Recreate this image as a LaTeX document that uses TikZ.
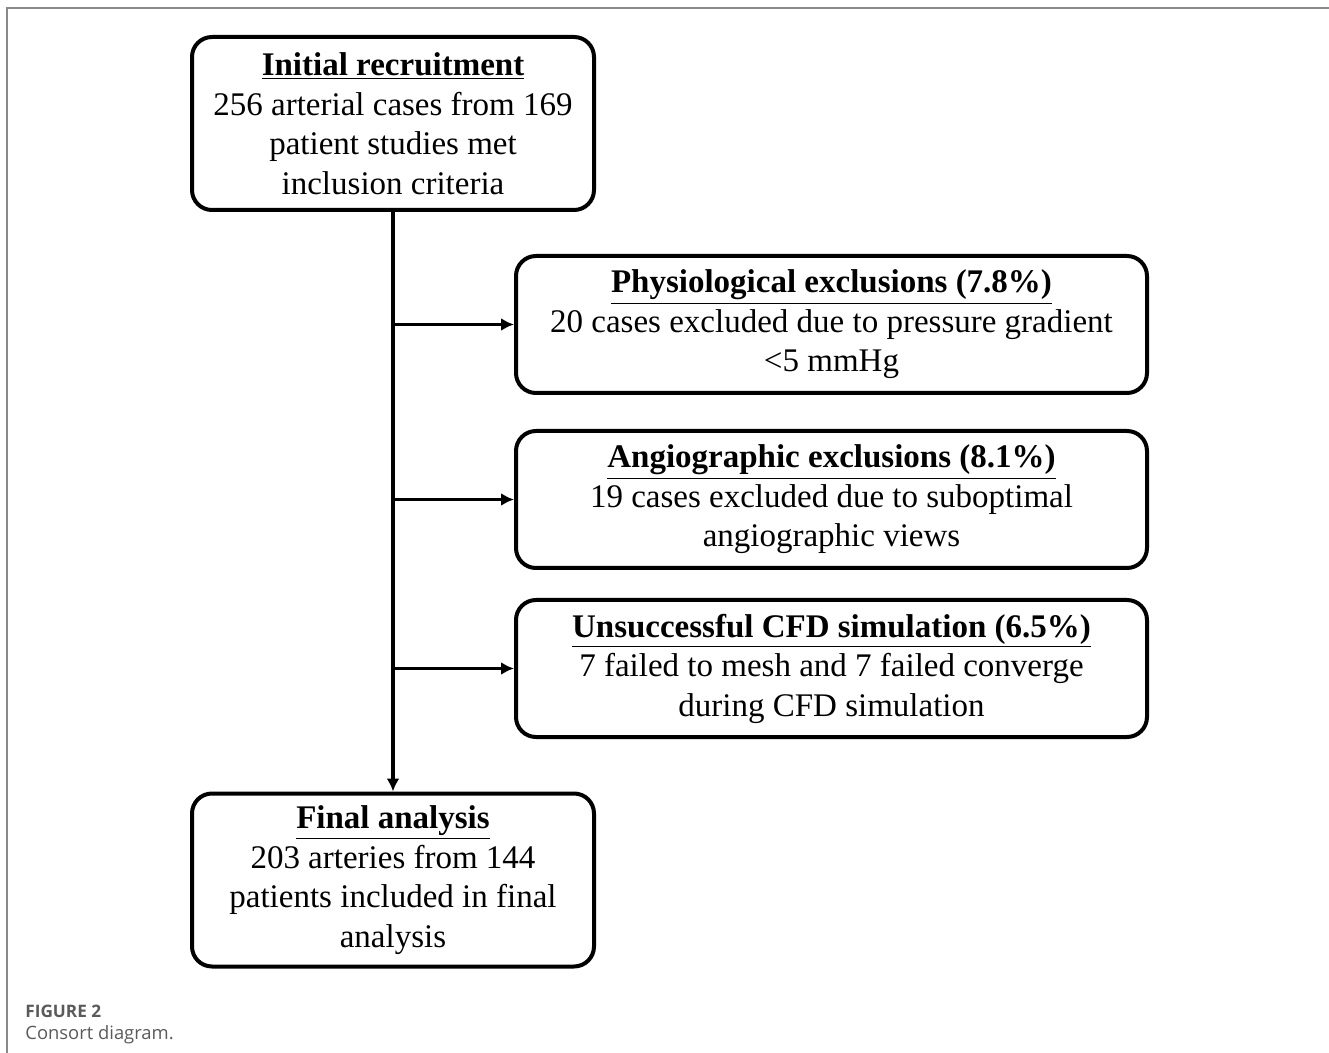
\documentclass[tikz,border=0pt]{standalone}
\usepackage{fontspec}
\setmainfont{Liberation Serif}
\newfontfamily\capfont{Open Sans}
\usepackage{tikz}
\usetikzlibrary{arrows.meta}
\usetikzlibrary{calc}
\usepackage{xcolor}
\definecolor{framegray}{HTML}{8A8A8A}
\definecolor{capgray}{HTML}{5A5A5A}

\begin{document}
\begin{tikzpicture}[x=0.5pt,y=-0.5pt,
		box/.style={draw, line width=2pt, rounded corners=10pt, align=center,
			inner sep=0pt, font=\fontsize{16.5}{19.75}\selectfont},
		smallbox/.style={box, minimum width=201pt, minimum height=86.5pt},
		widebox/.style={box, minimum width=315.5pt, minimum height=68.5pt},
		flow/.style={line width=1.8pt, -{Latex[length=6.5pt,width=6.5pt]}}]
		
		\useasboundingbox (0,0) rectangle (1329,1053);
		
		% frame of the figure
		\draw[framegray, line width=0.8pt] (7,1053) -- (7,8) -- (1329,8);
		
		% boxes
		\node[smallbox] (init) at (393,123.5)
		{\underline{\textbf{Initial recruitment}}\\
			256 arterial cases from 169\\ patient studies met\\ inclusion criteria};
		
		\node[widebox] (phys) at (831.5,324.5)
		{\underline{\textbf{Physiological exclusions (7.8\%)}}\\
			20 cases excluded due to pressure gradient\\ {<}5 mmHg};
		
		\node[widebox] (angio) at (831.5,499.5)
		{\underline{\textbf{Angiographic exclusions (8.1\%)}}\\
			19 cases excluded due to suboptimal\\ angiographic views};
		
		\node[widebox] (cfd) at (831.5,668.5)
		{\underline{\textbf{Unsuccessful CFD simulation (6.5\%)}}\\
			7 failed to mesh and 7 failed converge\\ during CFD simulation};
		
		\node[smallbox] (final) at (393,880)
		{\underline{\textbf{Final analysis}}\\
			203 arteries from 144\\ patients included in final\\ analysis};
		
		% main line and exclusion arrows
		\draw[flow] (init) -- (final);
		\draw[flow] (init.south |- phys.west) -- (phys.west);
		\draw[flow] (init.south |- angio.west) -- (angio.west);
		\draw[flow] (init.south |- cfd.west) -- (cfd.west);
		
		% caption
		\node[anchor=west, inner sep=0pt, text=capgray, font=\capfont\bfseries\fontsize{8.6}{10}\selectfont] (figno) at (25,1011) {FIGURE 2};
		\node[anchor=west, inner sep=0pt, text=capgray, font=\capfont\fontsize{9.2}{11}\selectfont] (figcap) at (25,1035) {Consort diagram.};
		
	\end{tikzpicture}
\end{document}
